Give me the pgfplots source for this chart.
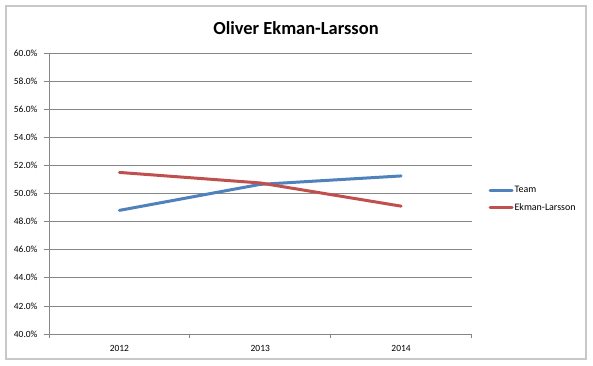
\documentclass[border=0pt]{standalone}
\usepackage{pgfplots}
\pgfplotsset{compat=1.18}
\usepackage{fontspec}
\setmainfont{Carlito}
\definecolor{teamblue}{RGB}{79,129,189}
\definecolor{olred}{RGB}{192,80,77}
\definecolor{gridgray}{RGB}{134,134,134}
\definecolor{framegray}{RGB}{200,200,200}
\begin{document}
\begin{tikzpicture}[x=1bp,y=1bp]
\path[use as bounding box, fill=white] (0,0) rectangle (593,365);
\draw[line width=1.5bp, color=framegray] (6,6) rectangle (586,359);
\node[font=\bfseries\fontsize{18.5}{20}\selectfont] at (296,337) {Oliver Ekman-Larsson};
\begin{axis}[
  at={(49bp,31bp)}, anchor=south west,
  scale only axis, width=422.5bp, height=281bp,
  xmin=-0.5, xmax=2.5, ymin=40, ymax=60,
  axis x line*=bottom, axis y line*=left,
  axis line style={-, gridgray, line width=0.8bp},
  xtick={0,1,2}, xticklabels={2012,2013,2014},
  minor xtick={-0.5,0.5,1.5,2.5},
  major x tick style={draw=none},
  minor x tick style={gridgray, line width=0.8bp},
  minor tick length=4bp,
  ytick={40,42,...,60},
  y tick style={gridgray, line width=0.8bp},
  major tick length=5bp,
  tick align=outside,
  ymajorgrids, grid style={gridgray, line width=0.8bp},
  yticklabel={\pgfmathprintnumber[fixed,fixed zerofill,precision=1,assume math mode=true]{\tick}\%},
  ticklabel style={font=\fontsize{9.5}{10}\selectfont},
  xticklabel style={/pgf/number format/assume math mode=true, yshift=-3bp},
  yticklabel style={xshift=-3bp},
  legend style={at={(1.04,0.48)}, anchor=west, draw=none, fill=none,
    font=\fontsize{10}{11}\selectfont, inner sep=0pt, row sep=7bp,
    nodes={inner sep=1bp}},
  legend cell align=left,
  legend image code/.code={\draw[#1] (0bp,0bp) -- (22bp,0bp);},
]
\addplot[teamblue, line width=3bp, line join=round, line cap=round] coordinates {(0,48.8) (1,50.65) (2,51.25)};
\addlegendentry{Team}
\addplot[olred, line width=3bp, line join=round, line cap=round] coordinates {(0,51.5) (1,50.75) (2,49.1)};
\addlegendentry{Ekman-Larsson}
\end{axis}
\end{tikzpicture}
\end{document}
